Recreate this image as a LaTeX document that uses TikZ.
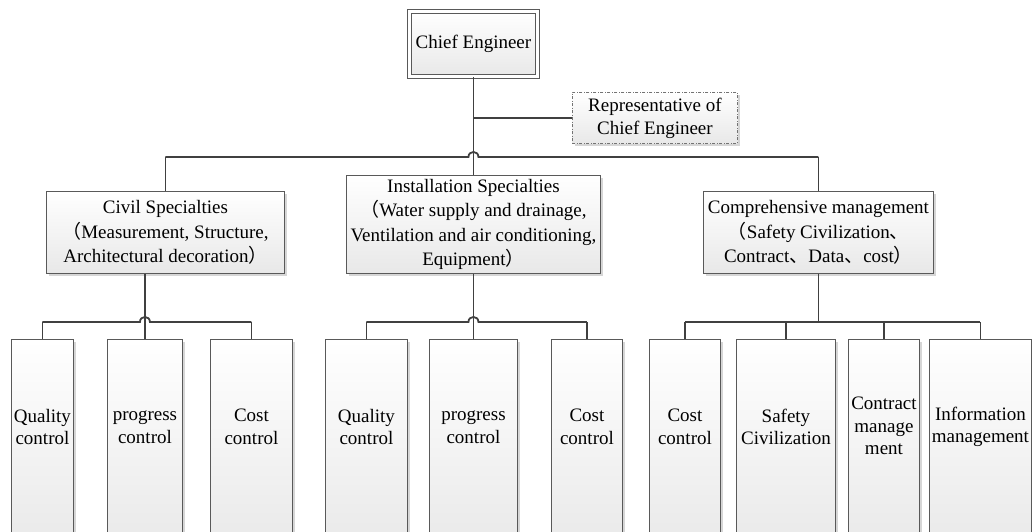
\documentclass[tikz,border=0pt]{standalone}
\usepackage{fontspec}
\setmainfont{Liberation Serif}
\newfontfamily\cjkfont{Noto Sans CJK SC}
\newcommand{\cjkp}[1]{{\cjkfont #1}}
\usetikzlibrary{shadows,calc}

\tikzset{
  conn/.style={draw=black!75, line width=1.8pt},
  orgbox/.style={draw=black!65, line width=0.9pt, top color=white, bottom color=black!9,
    drop shadow={shadow xshift=3pt, shadow yshift=-3pt, fill=black!16, draw=none, opacity=1},
    inner sep=0pt, align=center, anchor=north west},
  tallbox/.style={orgbox, minimum height=215pt},
  lbl/.style={align=center, inner sep=0pt, font=\fontsize{19}{22.5}\selectfont},
}

\begin{document}
\begin{tikzpicture}[x=1pt, y=-1pt, font=\fontsize{19}{24.5}\selectfont]
\useasboundingbox (0,0) rectangle (1032,532);
\clip (0,0) rectangle (1032,532);

% top level
\node[orgbox, minimum width=128pt, minimum height=65pt,
      double=white, double distance=2.4pt, line width=0.9pt] (chief) at (409,11) {Chief Engineer};
\node[orgbox, minimum width=165pt, minimum height=51pt, draw=black!55,
      dash pattern=on 3pt off 1.5pt on 1pt off 1.5pt,
      font=\fontsize{19}{23}\selectfont] (rep) at (572,92) {Representative of\\Chief Engineer};

% second level
\node[orgbox, minimum width=238pt, minimum height=82pt] (civil) at (46,191)
  {Civil Specialties\\\cjkp{（}Measurement, Structure,\\Architectural decoration\cjkp{）}};
\node[orgbox, minimum width=254pt, minimum height=98pt] (inst) at (346,175)
  {Installation Specialties\\\cjkp{（}Water supply and drainage,\\Ventilation and air conditioning,\\Equipment\cjkp{）}};
\node[orgbox, minimum width=230pt, minimum height=82pt] (comp) at (703,191)
  {Comprehensive management\\\cjkp{（}Safety Civilization\cjkp{、}\\Contract\cjkp{、}Data\cjkp{、}cost\cjkp{）}};

% third level
\node[tallbox, minimum width=62pt] (c1) at (11,339) {};
\node[tallbox, minimum width=75pt] (c2) at (107,339) {};
\node[tallbox, minimum width=82pt] (c3) at (210,339) {};
\node[tallbox, minimum width=82pt] (i1) at (325,339) {};
\node[tallbox, minimum width=88pt] (i2) at (429,339) {};
\node[tallbox, minimum width=71pt] (i3) at (551,339) {};
\node[tallbox, minimum width=71pt] (m1) at (649,339) {};
\node[tallbox, minimum width=99pt] (m2) at (736,339) {};
\node[tallbox, minimum width=71pt] (m3) at (848,339) {};
\node[tallbox, minimum width=102pt] (m4) at (929,339) {};

\node[lbl] (tc1) at ($(c1.north)+(0,88)$) {Quality\\control};
\node[lbl] (tc2) at ($(c2.north)+(0,88)$) {progress\\control};
\node[lbl] (tc3) at ($(c3.north)+(0,88)$) {Cost\\control};
\node[lbl] (ti1) at ($(i1.north)+(0,88)$) {Quality\\control};
\node[lbl] (ti2) at ($(i2.north)+(0,88)$) {progress\\control};
\node[lbl] (ti3) at ($(i3.north)+(0,88)$) {Cost\\control};
\node[lbl] (tm1) at ($(m1.north)+(0,88)$) {Cost\\control};
\node[lbl] (tm2) at ($(m2.north)+(0,88)$) {Safety\\Civilization};
\node[lbl] (tm3) at ($(m3.north)+(0,87)$) {Contract\\manage\\ment};
\node[lbl] (tm4) at ($(m4.north)+(0,88)$) {Information\\management};

% bus levels
\coordinate (bus) at (473,157);
\coordinate (sub) at (0,322);

% chief engineer to the second level
\draw[conn] (chief.south) -- (inst.north);
\draw[conn] (chief.south |- rep.west) -- (rep.west);
\draw[conn] (civil.north |- bus) -- ($(inst.north |- bus)+(-5,0)$)
  .. controls +(0,-6.7) and +(0,-6.7) .. ($(inst.north |- bus)+(5,0)$) -- (comp.north |- bus);
\draw[conn] (civil.north |- bus) -- (civil.north);
\draw[conn] (comp.north |- bus) -- (comp.north);

% civil specialties
\draw[conn] (civil.south -| c2.north) -- (c2.north);
\draw[conn] (c1.north |- sub) -- ($(c2.north |- sub)+(-5,0)$)
  .. controls +(0,-6.7) and +(0,-6.7) .. ($(c2.north |- sub)+(5,0)$) -- (c3.north |- sub);
\draw[conn] (c1.north |- sub) -- (c1.north);
\draw[conn] (c3.north |- sub) -- (c3.north);

% installation specialties
\draw[conn] (inst.south) -- (i2.north);
\draw[conn] (i1.north |- sub) -- ($(i2.north |- sub)+(-5,0)$)
  .. controls +(0,-6.7) and +(0,-6.7) .. ($(i2.north |- sub)+(5,0)$) -- (i3.north |- sub);
\draw[conn] (i1.north |- sub) -- (i1.north);
\draw[conn] (i3.north |- sub) -- (i3.north);

% comprehensive management
\draw[conn] (comp.south) -- (comp.south |- sub);
\draw[conn] (m1.north |- sub) -- (m4.north |- sub);
\draw[conn] (m1.north |- sub) -- (m1.north);
\draw[conn] (m2.north |- sub) -- (m2.north);
\draw[conn] (m3.north |- sub) -- (m3.north);
\draw[conn] (m4.north |- sub) -- (m4.north);
\end{tikzpicture}
\end{document}
